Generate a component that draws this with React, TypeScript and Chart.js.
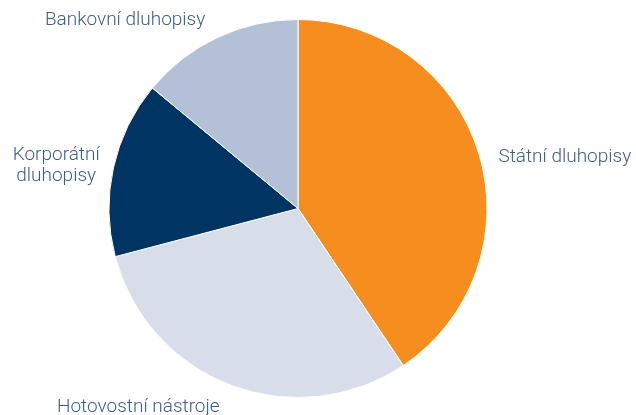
import React, { useEffect, useRef } from "react";
import { Chart, registerables } from "chart.js";

Chart.register(...registerables);

const categories: string[][] = [
  ["Státní dluhopisy"],
  ["Hotovostní nástroje"],
  ["Korporátní", "dluhopisy"],
  ["Bankovní dluhopisy"],
];
const shares: number[] = [40.6, 30.3, 15.1, 14.0];
const sliceColors: string[] = ["#F68E1F", "#D7DEEA", "#003462", "#B3C0D5"];
const labelNudges: [number, number][] = [
  [10, 7],
  [-8, 2],
  [-4, 0],
  [-8, 2],
];

const FONT = "300 19px Roboto, 'Liberation Sans', sans-serif";
const LINE_H = 21;

const outsideLabels = {
  id: "outsideLabels",
  afterDraw(chart: any) {
    const ctx = chart.ctx;
    const meta = chart.getDatasetMeta(0);
    ctx.save();
    ctx.font = FONT;
    ctx.fillStyle = "#3D5C8A";
    ctx.textBaseline = "middle";
    ctx.textAlign = "center";
    meta.data.forEach((arc: any, i: number) => {
      const lines = categories[i];
      const mid = (arc.startAngle + arc.endAngle) / 2;
      const r = arc.outerRadius + 10;
      const cos = Math.cos(mid);
      const sin = Math.sin(mid);
      const ax = arc.x + cos * r + labelNudges[i][0];
      const ay = arc.y + sin * r + labelNudges[i][1];
      const w = Math.max(...lines.map((l) => ctx.measureText(l).width));
      const h = lines.length * LINE_H;
      let cx = ax;
      if (cos > 0.3) cx = ax + w / 2;
      else if (cos < -0.3) cx = ax - w / 2;
      let top = ay - h / 2;
      if (sin < -0.6) top = ay - h;
      else if (sin > 0.6) top = ay;
      lines.forEach((l, k) => {
        ctx.fillText(l, cx, top + LINE_H / 2 + k * LINE_H);
      });
    });
    ctx.restore();
  },
};

export default function App() {
  const ref = useRef<HTMLCanvasElement>(null);
  useEffect(() => {
    if (!ref.current) return;
    const chart = new Chart(ref.current, {
      type: "pie",
      data: {
        labels: categories.map((c) => c.join(" ")),
        datasets: [
          {
            data: shares,
            backgroundColor: sliceColors,
            borderColor: "#ffffff",
            borderWidth: 1,
          },
        ],
      },
      options: {
        animation: false,
        responsive: true,
        maintainAspectRatio: false,
        layout: { padding: { top: 19, bottom: 17, left: 0, right: 40 } },
        plugins: {
          legend: { display: false },
          tooltip: { enabled: false },
        },
      },
      plugins: [outsideLabels],
    });
    return () => chart.destroy();
  }, []);
  return (
    <div style={{ position: "fixed", left: 0, top: 0, width: 636, height: 415, background: "#fff" }}>
      <canvas ref={ref} />
    </div>
  );
}
